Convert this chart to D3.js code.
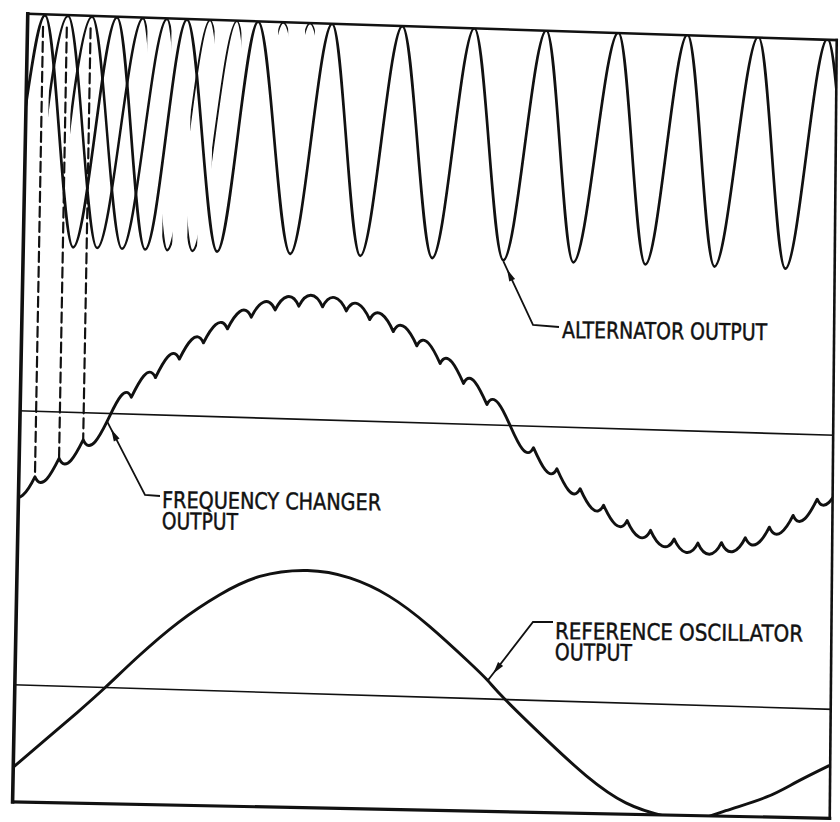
<!DOCTYPE html>
<html>
<head>
<meta charset="utf-8">
<script src="https://cdn.jsdelivr.net/npm/d3@7"></script>
<style>
  body { margin: 0; background: #fff; }
  text { font-family: "DejaVu Sans Condensed", "DejaVu Sans", sans-serif; fill: #111; stroke: #111; stroke-width: 0.45; }
</style>
</head>
<body>
<div id="chart"></div>
<script>
// Waveform sketch: alternator, frequency changer and reference oscillator outputs
const width = 840;
const height = 822;

// the scanned page is a little skewed
const skewX = -0.018;
const skewY = 0.03;

// phase is in electrical degrees of the reference oscillator, levels are per unit

// alternator output, bold phase (peaks at +1, troughs at -1)
const altPeaks = [-32.5, -0.1, 31.4, 63.4, 96.7, 128.3, 160.7, 193.1, 225.5, 256.6, 288.5, 319.6];
const altTroughs = [-18.0, 14.4, 46.8, 79.7, 111.2, 143.6, 175.6, 207.1, 239.5, 270.6, 302.5];
const altEnds = [[-40.5, 0.2], [327.5, -0.1]];

// the two other phases, only drawn in pieces at the left
const phaseBPeaks = [-22.1, 11.6, 41.8, 74.7];
const phaseBTroughs = [-36.6, -7.2, 24.3, 56.3, 89.2];
const phaseCPeaks = [-11.3, 22.4, 53.9, 86.8];
const phaseCTroughs = [-25.8, 4.0, 35.6, 67.7, 100.5];
const phaseBPieces = [[-30.2, 13.7], [22.0, 26.6]];
const phaseBThin = [[33.7, 43.9], [72.5, 77.0]];
const phaseCPieces = [[-20.3, 24.5], [33.3, 37.8]];
const phaseCThin = [[43.7, 56.0], [84.6, 89.0]];

// frequency changer output: ripple cusps
const fcCuspPhase = [-43.9, -33.3, -22.6, -11.9, -1.3, 9.4, 20.1, 30.7, 41.4, 52.1, 62.7, 73.4,
  84.0, 94.7, 105.4, 116.0, 126.7, 137.4, 148.0, 158.7, 169.4, 180.0, 190.7, 201.4, 212.0,
  222.7, 233.4, 244.0, 254.7, 265.4, 276.0, 286.7, 297.4, 308.0, 318.7, 329.4];
const fcCuspLevel = [-0.71, -0.58, -0.41, -0.24, -0.07, 0.15, 0.33, 0.50, 0.65, 0.78, 0.89, 0.96,
  1.0, 1.0, 0.97, 0.90, 0.80, 0.68, 0.53, 0.36, 0.18, 0.0, -0.19, -0.37, -0.54,
  -0.68, -0.81, -0.89, -0.96, -0.99, -0.98, -0.93, -0.83, -0.72, -0.57, -0.42];
const fcRipple = 0.1;
// dashed projections from the alternator peaks down to these cusps
const dashedCusps = [1, 2, 3];

// reference oscillator output
const refPhase = [-40.7, -25.9, -12.4, 0, 14.6, 32.6, 50.6, 68.6, 90, 109.1, 127.1, 145.1,
  163.1, 172, 180, 199.1, 217.1, 235.1, 253.1, 266.6, 280.1, 298.1, 311.6, 326.0];
const refLevel = [-0.67, -0.43, -0.21, 0, 0.26, 0.55, 0.78, 0.94, 1.0, 0.95, 0.81, 0.58,
  0.30, 0.15, 0, -0.32, -0.60, -0.81, -0.91, -0.93, -0.85, -0.73, -0.60, -0.46];

// page box (unskewed page units)
const frame = [[28, 13], [837, 15], [844, 793], [27, 801]];

const svg = d3.select("#chart")
  .append("svg")
  .attr("width", width)
  .attr("height", height)
  .style("background", "#fff");

const defs = svg.append("defs");

const page = svg.append("g")
  .attr("transform", `matrix(1,${skewY},${skewX},1,0,0)`);

// scales
const x = d3.scaleLinear().domain([0, 180]).range([117.5, 517.5]);
const yAlt = d3.scaleLinear().domain([-1, 1]).range([245, 14]);
const yFc = d3.scaleLinear().domain([-1, 1]).range([523, 297]);
const yRef = d3.scaleLinear().domain([-1, 1]).range([807, 561]);

const toImage = (u, v) => [u + skewX * v, skewY * u + v];

defs.append("clipPath").attr("id", "frameClip")
  .append("polygon").attr("points", frame.map(d => d.join(",")).join(" "));

const curves = page.append("g").attr("clip-path", "url(#frameClip)")
  .attr("fill", "none").attr("stroke", "#111")
  .attr("stroke-linejoin", "round").attr("stroke-linecap", "round");

/* alternator */

function extrema(peaks, troughs, ends) {
  return peaks.map(p => [p, 1])
    .concat(troughs.map(t => [t, -1]), ends || [])
    .sort((a, b) => a[0] - b[0]);
}

const altLine = d3.line()
  .x(d => x(d[0]))
  .y(d => yAlt(d[1]))
  .curve(d3.curveMonotoneX);

curves.append("path")
  .attr("d", altLine(extrema(altPeaks, altTroughs, altEnds)))
  .attr("stroke-width", 2.7);

let clipId = 0;
function drawPieces(points, pieces, strokeW) {
  pieces.forEach(piece => {
    const id = "piece" + (clipId++);
    defs.append("clipPath").attr("id", id)
      .append("rect")
      .attr("x", x(piece[0]))
      .attr("width", x(piece[1]) - x(piece[0]))
      .attr("y", 0)
      .attr("height", height);
    curves.append("path")
      .attr("d", altLine(points))
      .attr("clip-path", `url(#${id})`)
      .attr("stroke-width", strokeW);
  });
}

const phaseB = extrema(phaseBPeaks, phaseBTroughs);
const phaseC = extrema(phaseCPeaks, phaseCTroughs);
drawPieces(phaseB, phaseBPieces, 2.5);
drawPieces(phaseB, phaseBThin, 1.9);
drawPieces(phaseC, phaseCPieces, 2.5);
drawPieces(phaseC, phaseCThin, 1.9);

/* zero lines */

curves.append("line")
  .attr("x1", 20).attr("x2", 850)
  .attr("y1", yFc(0)).attr("y2", yFc(0))
  .attr("stroke-width", 1.6);

curves.append("line")
  .attr("x1", 20).attr("x2", 850)
  .attr("y1", yRef(0)).attr("y2", yRef(0))
  .attr("stroke-width", 1.6);

/* frequency changer */

// scallops between cusps: humps above the axis, cups below
function fcPath() {
  const p = d3.path();
  const pts = fcCuspPhase.map((ph, i) => [x(ph), yFc(fcCuspLevel[i])]);
  const depth = yFc(0) - yFc(fcRipple);
  p.moveTo(pts[0][0], pts[0][1]);
  for (let i = 1; i < pts.length; i++) {
    const [x0, y0] = pts[i - 1];
    const [x1, y1] = pts[i];
    const mid = (fcCuspLevel[i - 1] + fcCuspLevel[i]) / 2;
    const bulge = (mid >= 0 ? -1 : 1) * depth * 4 / 3;
    const w = x1 - x0;
    p.bezierCurveTo(x0 + 0.3 * w, y0 + bulge, x1 - 0.3 * w, y1 + bulge, x1, y1);
  }
  return p.toString();
}

curves.append("path")
  .attr("d", fcPath())
  .attr("stroke-width", 2.9);

// dashed projections
curves.selectAll(".proj")
  .data(dashedCusps)
  .enter()
  .append("line")
    .attr("class", "proj")
    .attr("x1", i => x(fcCuspPhase[i]))
    .attr("x2", i => x(fcCuspPhase[i]))
    .attr("y1", yAlt(0.9))
    .attr("y2", i => yFc(fcCuspLevel[i]))
    .attr("stroke-width", 2.2)
    .attr("stroke-dasharray", "10,5");

/* reference oscillator */

const refLine = d3.line()
  .x((d, i) => x(refPhase[i]))
  .y(d => yRef(d))
  .curve(d3.curveNatural);

curves.append("path")
  .attr("d", refLine(refLevel))
  .attr("stroke-width", 2.9);

/* page box */

const sides = [[0, 1, 2.6], [1, 2, 2.6], [2, 3, 3.2], [3, 0, 3.6]];
page.selectAll(".side")
  .data(sides)
  .enter()
  .append("line")
    .attr("class", "side")
    .attr("x1", d => frame[d[0]][0]).attr("y1", d => frame[d[0]][1])
    .attr("x2", d => frame[d[1]][0]).attr("y2", d => frame[d[1]][1])
    .attr("stroke", "#111")
    .attr("stroke-width", d => d[2])
    .attr("stroke-linecap", "square");

/* labels with leaders */

const altTip = toImage(x(altTroughs[6]), yAlt(-1) + 1);
const fcTip = toImage(x(fcCuspPhase[4]), yFc(fcCuspLevel[4]));
const refTip = toImage(x(refPhase[13]), yRef(refLevel[13]));

const labels = [
  {lines: ["ALTERNATOR OUTPUT"], lens: [205], x: 562, y: 338, tip: altTip, elbow: [533, 325], end: [559, 327]},
  {lines: ["FREQUENCY CHANGER", "OUTPUT"], lens: [219, 76], x: 162, y: 508, tip: fcTip, elbow: [145, 495], end: [160, 496]},
  {lines: ["REFERENCE OSCILLATOR", "OUTPUT"], lens: [248, 77], x: 555, y: 639, tip: refTip, elbow: [533, 622], end: [553, 622]}
];

const lineGap = [0, 21];

labels.forEach(lab => {
  svg.append("path")
    .attr("d", d3.line()([lab.tip, lab.elbow, lab.end]))
    .attr("fill", "none")
    .attr("stroke", "#111")
    .attr("stroke-width", 1.8);

  // small arrow head pointing at the curve
  const dx = lab.elbow[0] - lab.tip[0];
  const dy = lab.elbow[1] - lab.tip[1];
  const len = Math.hypot(dx, dy);
  const ux = dx / len, uy = dy / len;
  const a = [lab.tip[0] + ux * 9, lab.tip[1] + uy * 9];
  const b = [lab.tip[0] + ux * 21 - uy * 3.2, lab.tip[1] + uy * 21 + ux * 3.2];
  const c = [lab.tip[0] + ux * 21 + uy * 3.2, lab.tip[1] + uy * 21 - ux * 3.2];
  svg.append("path")
    .attr("d", d3.line()([a, b, c]) + "Z")
    .attr("fill", "#111");

  lab.lines.forEach((t, i) => {
    svg.append("text")
      .attr("x", lab.x)
      .attr("y", lab.y + lineGap[i])
      .attr("font-size", 23)
      .attr("textLength", lab.lens[i])
      .attr("lengthAdjust", "spacingAndGlyphs")
      .attr("transform", `rotate(0.6, ${lab.x}, ${lab.y})`)
      .text(t);
  });
});
</script>
</body>
</html>
